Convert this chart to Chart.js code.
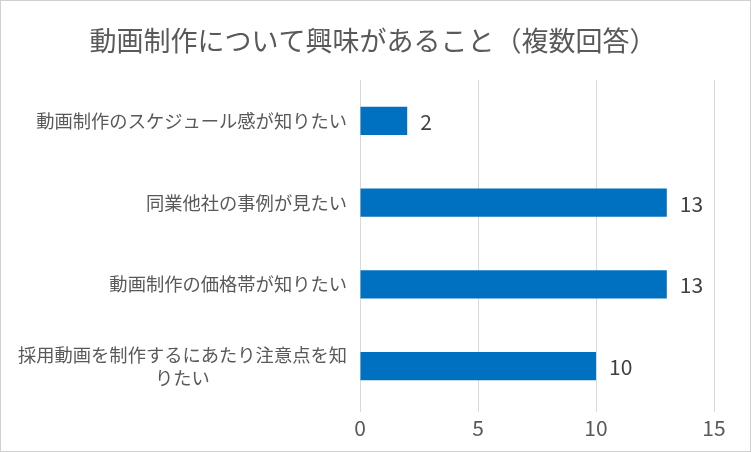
<!DOCTYPE html>
<html>
<head>
<meta charset="utf-8">
<script src="https://cdn.jsdelivr.net/npm/chart.js@4"></script>
<style>
  body { margin: 0; background: #fff; }
  #wrap { position: relative; width: 751px; height: 452px; }
  #wrap:after { content: ""; position: absolute; left: 0; top: 0; right: 0; bottom: 0;
    border: 1px solid #d0d0d0; box-sizing: border-box; pointer-events: none; }
</style>
</head>
<body>
<div id="wrap"><canvas id="myChart" width="751" height="452"></canvas></div>
<script>
var titleText = "動画制作について興味があること（複数回答）";
var categories = [
  "動画制作のスケジュール感が知りたい",
  "同業他社の事例が見たい",
  "動画制作の価格帯が知りたい",
  ["採用動画を制作するにあたり注意点を知", "りたい"]
];
var counts = [2, 13, 13, 10];
var xTicks = [0, 5, 10, 15];

var fontName = "'Noto Sans CJK JP', 'Noto Sans', sans-serif";

// title + category labels drawn by hand (block right aligned, lines centered in it)
var textLayer = {
  id: "textLayer",
  afterDraw: function(chart) {
    var ctx = chart.ctx;
    var yScale = chart.scales.y;
    ctx.save();
    ctx.textBaseline = "middle";
    ctx.textAlign = "center";
    ctx.fillStyle = "#595959";
    ctx.font = "27px " + fontName;
    ctx.fillText(titleText, 373, 41);

    ctx.font = "18.3px " + fontName;
    categories.forEach(function(label, i) {
      var lines = Array.isArray(label) ? label : [label];
      var w = 0;
      lines.forEach(function(l) { w = Math.max(w, ctx.measureText(l).width); });
      var cx = 347 - w / 2;
      var cy = yScale.getPixelForTick(i);
      var lh = 23;
      var y0 = cy - (lines.length - 1) * lh / 2;
      lines.forEach(function(l, j) { ctx.fillText(l, cx, y0 + j * lh); });
    });
    ctx.restore();
  }
};

var valueLabels = {
  id: "valueLabels",
  afterDatasetsDraw: function(chart) {
    var ctx = chart.ctx;
    ctx.save();
    ctx.font = "21px " + fontName;
    ctx.fillStyle = "#404040";
    ctx.textAlign = "left";
    ctx.textBaseline = "middle";
    chart.getDatasetMeta(0).data.forEach(function(bar, i) {
      ctx.fillText(counts[i], bar.x + 13, bar.y + 1);
    });
    ctx.restore();
  }
};

var ctx = document.getElementById("myChart").getContext("2d");
var chart = new Chart(ctx, {
  type: "bar",
  data: {
    labels: categories,
    datasets: [
      {
        data: counts,
        backgroundColor: "#0070C0",
        barPercentage: 0.345,
        categoryPercentage: 1
      }
    ]
  },
  options: {
    indexAxis: "y",
    responsive: false,
    animation: false,
    layout: { padding: { left: 0, right: 37, top: 80, bottom: 0 } },
    plugins: {
      legend: { display: false },
      tooltip: { enabled: false },
      title: { display: false }
    },
    scales: {
      x: {
        min: 0,
        max: 15,
        afterBuildTicks: function(axis) {
          axis.ticks = xTicks.map(function(v) { return { value: v }; });
        },
        afterFit: function(axis) { axis.height = 45; },
        grid: { color: "#d9d9d9", tickLength: 5 },
        border: { display: false },
        ticks: {
          color: "#595959",
          padding: 3,
          font: { family: fontName, size: 21 }
        }
      },
      y: {
        afterFit: function(axis) { axis.width = 360; },
        grid: { display: false },
        border: { display: false },
        ticks: { display: false }
      }
    }
  },
  plugins: [textLayer, valueLabels]
});
</script>
</body>
</html>
